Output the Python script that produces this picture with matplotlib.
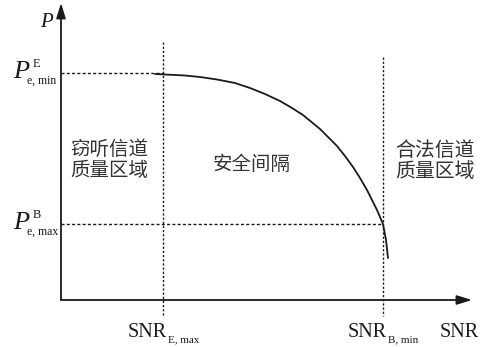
import matplotlib
matplotlib.use("Agg")
import matplotlib.pyplot as plt

# Thresholds (schematic units, origin at the axis crossing)
snr_e_max = 102
snr_b_min = 322
pe_min_e = 227
pe_max_b = 76

# Error-probability curve of the legitimate channel vs. SNR
curve_snr = [94, 124, 139, 156, 174, 189, 204, 219, 231, 242, 259, 276, 284,
             292, 299, 306, 311, 316, 322, 325, 327]
curve_pe = [226, 224.5, 223, 220.5, 217, 212, 206, 199, 192, 185, 171, 154, 144,
            133, 122, 110, 100, 90, 76, 60, 42]

region_labels = ["窃听信道\n质量区域", "安全间隔", "合法信道\n质量区域"]

fig = plt.figure(figsize=(4.89, 3.47), dpi=100)
ax = fig.add_axes([0, 0, 1, 1])
ax.set_xlim(-61, 428)
ax.set_ylim(-47, 300)
ax.axis("off")

ink = "#1a1a1a"
dash = (0, (2.2, 1.6))
dot = (0, (1.6, 1.4))
serif = "Liberation Serif"

# axes with arrow heads
arrow = dict(arrowstyle="-|>,head_length=0.9,head_width=0.28", color=ink,
             lw=1.3, shrinkA=0, shrinkB=0)
ax.annotate("", xy=(0, 297), xytext=(0, 0), arrowprops=arrow)
ax.annotate("", xy=(411, 0), xytext=(0, 0), arrowprops=arrow)

# threshold guide lines
ax.plot([0, snr_e_max], [pe_min_e, pe_min_e], color=ink, lw=1.0, ls=dash)
ax.plot([0, snr_b_min], [pe_max_b, pe_max_b], color=ink, lw=1.0, ls=dash)
ax.plot([snr_e_max, snr_e_max], [258, -16], color=ink, lw=1.0, ls=dot)
ax.plot([snr_b_min, snr_b_min], [243, -16], color=ink, lw=1.0, ls=dot)

# curve
ax.plot(curve_snr, curve_pe, color=ink, lw=1.3, solid_capstyle="round",
        solid_joinstyle="round")


def p_label(x, y, sup, sub):
    ax.text(x, y, "P", fontsize=19, family=serif, style="italic", color=ink,
            ha="left", va="baseline")
    ax.text(x + 20, y + 11, sup, fontsize=9, family=serif, color=ink,
            ha="left", va="baseline")
    ax.text(x + 14, y - 6, sub, fontsize=8.5, family=serif, color=ink,
            ha="left", va="baseline")


def snr_label(x, y, sub):
    ax.text(x, y, "SNR", fontsize=14.5, family=serif, color=ink,
            ha="left", va="baseline")
    if sub:
        ax.text(x + 40, y - 5, sub, fontsize=8, family=serif, color=ink,
                ha="left", va="baseline")


# axis names
ax.text(-21, 273, "P", fontsize=15, family=serif, style="italic", color=ink,
        ha="left", va="baseline")
snr_label(379, -37, "")

# threshold labels
p_label(-48, pe_min_e - 5, "E", "e, min")
p_label(-48, pe_max_b - 5, "B", "e, max")
snr_label(snr_e_max - 35, -37, "E, max")
snr_label(snr_b_min - 35, -37, "B, min")

# region labels
cjk = ["Noto Sans CJK SC", "DejaVu Sans"]
ax.text(9, 140, region_labels[0], fontsize=14, color="#333333", family=cjk,
        ha="left", va="center", linespacing=1.0)
ax.text(191, 136, region_labels[1], fontsize=14, color="#333333", family=cjk,
        ha="center", va="center")
ax.text(334, 139, region_labels[2], fontsize=14.3, color="#333333", family=cjk,
        ha="left", va="center", linespacing=1.0)

fig.savefig("out.png", dpi=100, facecolor="white")
